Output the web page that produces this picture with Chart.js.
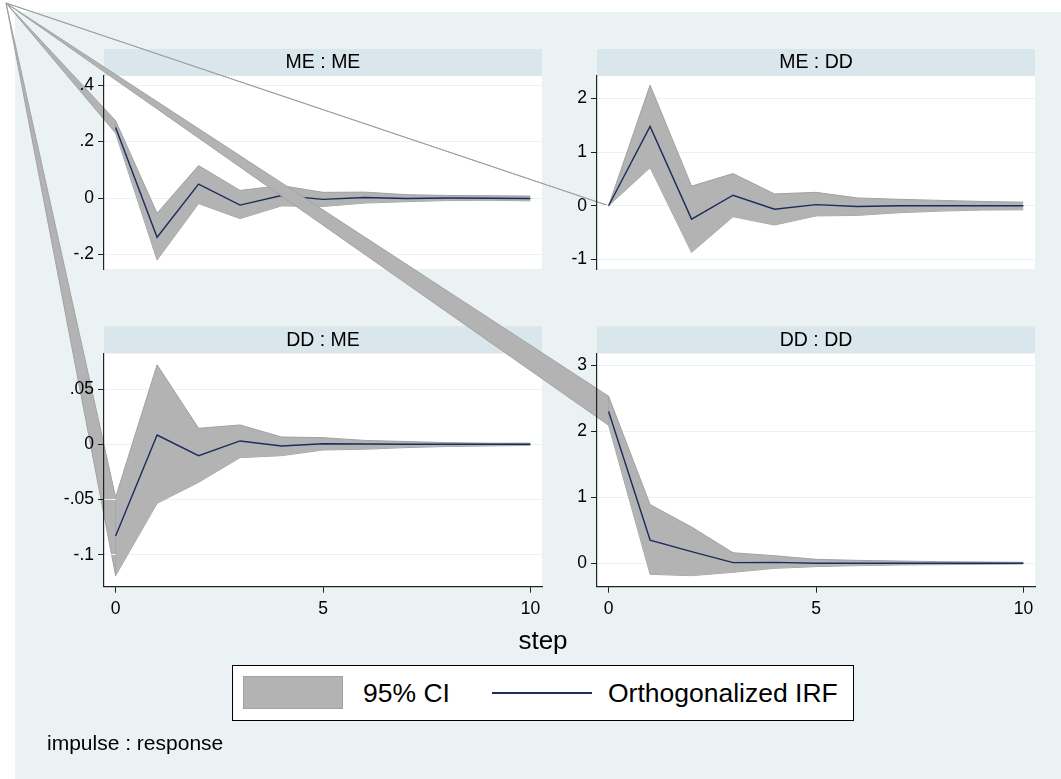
<!DOCTYPE html>
<html>
<head>
<meta charset="utf-8">
<title>Orthogonalized IRF</title>
<script src="https://cdn.jsdelivr.net/npm/chart.js"></script>
<style>
  body {
    margin: 0;
    width: 1061px;
    height: 779px;
    position: relative;
    overflow: hidden;
    background: #ffffff;
    font-family: Arial, "Liberation Sans", sans-serif;
    color: #000;
  }
  #bg { position: absolute; left: 15px; top: 12px; width: 1046px; height: 767px; background: #eaf2f3; }
  canvas.panel { position: absolute; left: 0; top: 0; }
  #step { position: absolute; left: 443px; width: 200px; top: 627px; text-align: center; font-size: 26px; line-height: 26px; }
  #legend {
    position: absolute; left: 232px; top: 665px; width: 622px; height: 56px;
    box-sizing: border-box; background: #fff; border: 1px solid #000;
  }
  #legend .swatch { position: absolute; left: 10px; top: 10px; width: 100px; height: 33px; box-sizing: border-box; background: #b3b3b3; border: 1px solid #a2a2a2; }
  #legend .line { position: absolute; left: 259px; top: 26px; width: 100px; height: 2px; background: #1c2c5c; }
  #legend .txt { position: absolute; top: 14px; font-size: 26.5px; line-height: 26px; white-space: nowrap; }
  #note { position: absolute; left: 47px; top: 732px; font-size: 21px; line-height: 21px; }
</style>
</head>
<body>
<div id="bg"></div>
<canvas class="panel" id="meMe" width="1061" height="779"></canvas>
<canvas class="panel" id="meDd" width="1061" height="779"></canvas>
<canvas class="panel" id="ddMe" width="1061" height="779"></canvas>
<canvas class="panel" id="ddDd" width="1061" height="779"></canvas>
<div id="step">step</div>
<div id="legend">
  <div class="swatch"></div>
  <div class="txt" style="left:130px">95% CI</div>
  <div class="line"></div>
  <div class="txt" style="left:375px">Orthogonalized IRF</div>
</div>
<div id="note">impulse : response</div>

<script>
// step 0..10
const steps = [0, 1, 2, 3, 4, 5, 6, 7, 8, 9, 10];

// impulse ME -> response ME
const meMeIrf = [0.25, -0.139, 0.049, -0.025, 0.009, -0.005, 0.002, -0.002, 0.0, -0.001, -0.002];
const meMeHi  = [0.274, -0.054, 0.115, 0.027, 0.044, 0.02, 0.021, 0.012, 0.009, 0.008, 0.007];
const meMeLo  = [0.23, -0.22, -0.02, -0.073, -0.028, -0.03, -0.018, -0.013, -0.009, -0.008, -0.01];

// impulse ME -> response DD
const meDdIrf = [0, 1.48, -0.25, 0.196, -0.066, 0.02, -0.015, 0.0, 0.0, 0.0, 0.0];
const meDdHi  = [0, 2.25, 0.366, 0.6, 0.22, 0.25, 0.145, 0.12, 0.1, 0.08, 0.067];
const meDdLo  = [0, 0.71, -0.87, -0.205, -0.36, -0.19, -0.18, -0.13, -0.1, -0.08, -0.077];

// impulse DD -> response ME
const ddMeIrf = [-0.083, 0.0084, -0.0103, 0.003, -0.0015, 0.0005, 0.0002, 0.0, 0.0, 0.0, 0.0];
const ddMeHi  = [-0.048, 0.072, 0.0145, 0.0175, 0.0066, 0.006, 0.0035, 0.0025, 0.0015, 0.001, 0.001];
const ddMeLo  = [-0.119, -0.0535, -0.0345, -0.0121, -0.0103, -0.0052, -0.0045, -0.003, -0.002, -0.0015, -0.001];

// impulse DD -> response DD
const ddDdIrf = [2.30, 0.352, 0.176, 0.01, 0.015, 0.0, 0.0, 0.0, 0.0, 0.0, 0.0];
const ddDdHi  = [2.53, 0.89, 0.55, 0.16, 0.115, 0.06, 0.045, 0.035, 0.025, 0.02, 0.015];
const ddDdLo  = [2.09, -0.167, -0.187, -0.136, -0.076, -0.05, -0.035, -0.025, -0.02, -0.015, -0.01];

// tick values
const stepTicks = [0, 5, 10];
const meMeTicks = [-0.2, 0, 0.2, 0.4];
const meDdTicks = [-1, 0, 1, 2];
const ddMeTicks = [-0.1, -0.05, 0, 0.05];
const ddDdTicks = [0, 1, 2, 3];

const NAVY = '#1c2c5c';
const CI_FILL = '#b3b3b3';
const CI_EDGE = '#a2a2a2';
const AXIS = '#222222';
const GRID = '#eaf2f3';
const STRIP = '#d9e6eb';
const FONT = 'Arial, "Liberation Sans", sans-serif';
const ORIGIN = { x: 6, y: 3 };   // where Stata's stray polygon vertices start

// stata style numbers: .2, -.05
function stataNum(v) {
  return String(+v.toFixed(4)).replace(/^(-?)0\./, '$1.');
}

// white plot region, title strip, then the CI polygon that leaks back
// to the page corner in the original (drawn before the axes, like Stata)
const panelBg = {
  id: 'panelBg',
  beforeDraw(chart, args, opts) {
    const { ctx, chartArea: a } = chart;
    ctx.save();
    ctx.fillStyle = '#ffffff';
    ctx.fillRect(a.left, a.top, a.right - a.left, a.bottom - a.top);
    ctx.fillStyle = STRIP;
    ctx.fillRect(a.left, a.top - 27, a.right - a.left, 27);
    ctx.fillStyle = '#000';
    ctx.font = '19.5px ' + FONT;
    ctx.textAlign = 'center';
    ctx.textBaseline = 'middle';
    ctx.fillText(opts.text, (a.left + a.right) / 2, a.top - 13);

    const xs = chart.scales.x, ys = chart.scales.y;
    const hi = chart.data.datasets[1].data[0];
    const lo = chart.data.datasets[2].data[0];
    ctx.beginPath();
    ctx.moveTo(ORIGIN.x, ORIGIN.y);
    ctx.lineTo(xs.getPixelForValue(hi.x), ys.getPixelForValue(hi.y));
    ctx.lineTo(xs.getPixelForValue(lo.x), ys.getPixelForValue(lo.y));
    ctx.closePath();
    ctx.fillStyle = CI_FILL;
    ctx.fill();
    ctx.strokeStyle = CI_EDGE;
    ctx.lineWidth = 1;
    ctx.stroke();
    ctx.restore();
  }
};

function pts(arr) {
  return arr.map((v, i) => ({ x: steps[i], y: v }));
}

function makePanel(id, p) {
  return new Chart(document.getElementById(id), {
    type: 'line',
    data: {
      datasets: [
        { label: 'Orthogonalized IRF', data: pts(p.irf), borderColor: NAVY, borderWidth: 1.4, pointRadius: 0, fill: false, tension: 0 },
        { label: '95% CI', data: pts(p.hi), borderColor: CI_EDGE, borderWidth: 1, backgroundColor: CI_FILL, pointRadius: 0, fill: '+1', tension: 0 },
        { label: '95% CI low', data: pts(p.lo), borderColor: CI_EDGE, borderWidth: 1, pointRadius: 0, fill: false, tension: 0 }
      ]
    },
    options: {
      responsive: false,
      animation: false,
      devicePixelRatio: 1,
      layout: { padding: p.pad },
      plugins: {
        legend: { display: false },
        tooltip: { enabled: false },
        panelBg: { text: p.title }
      },
      scales: {
        x: {
          type: 'linear',
          min: -0.28, max: 10.28,
          display: p.showX,
          afterBuildTicks: s => { s.ticks = stepTicks.map(v => ({ value: v })); },
          afterFit: s => { s.height = 40; },
          grid: { drawOnChartArea: false, tickColor: AXIS, tickLength: 6 },
          border: { color: AXIS, width: 1.2 },
          ticks: { color: '#000', padding: 6, maxRotation: 0, font: { size: 17.5, family: FONT } }
        },
        y: {
          min: p.min, max: p.max,
          afterBuildTicks: s => { s.ticks = p.ticks.map(v => ({ value: v })); },
          afterFit: s => { s.width = 50; },
          grid: { color: GRID, tickColor: AXIS, tickLength: 6, lineWidth: 1 },
          border: { color: AXIS, width: 1.2 },
          ticks: { color: '#000', padding: 4, font: { size: 17.5, family: FONT }, callback: v => stataNum(v) }
        }
      }
    },
    plugins: [panelBg]
  });
}

makePanel('meMe', {
  title: 'ME : ME', irf: meMeIrf, hi: meMeHi, lo: meMeLo, ticks: meMeTicks,
  min: -0.2517, max: 0.4326, showX: false,
  pad: { left: 54, right: 519, top: 76, bottom: 470 }
});
makePanel('meDd', {
  title: 'ME : DD', irf: meDdIrf, hi: meDdHi, lo: meDdLo, ticks: meDdTicks,
  min: -1.18, max: 2.42, showX: false,
  pad: { left: 547, right: 26, top: 76, bottom: 470 }
});
makePanel('ddMe', {
  title: 'DD : ME', irf: ddMeIrf, hi: ddMeHi, lo: ddMeLo, ticks: ddMeTicks,
  min: -0.129, max: 0.0824, showX: true,
  pad: { left: 54, right: 519, top: 353.3, bottom: 152.3 }
});
makePanel('ddDd', {
  title: 'DD : DD', irf: ddDdIrf, hi: ddDdHi, lo: ddDdLo, ticks: ddDdTicks,
  min: -0.354, max: 3.18, showX: true,
  pad: { left: 547, right: 26, top: 353.3, bottom: 152.3 }
});
</script>
</body>
</html>
